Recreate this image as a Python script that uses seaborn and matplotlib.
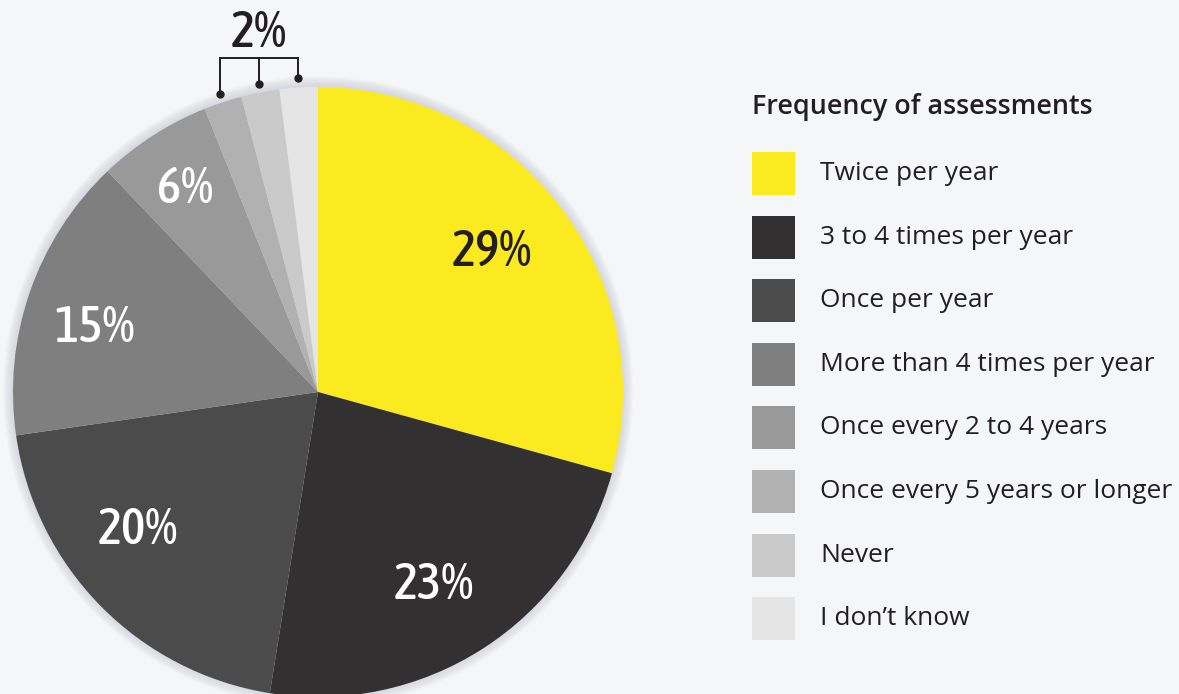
import numpy as np
import matplotlib
matplotlib.use("Agg")
import matplotlib.pyplot as plt
from matplotlib import font_manager
from matplotlib.patches import Circle, Rectangle
import seaborn as sns

# Survey results: how often assessments are carried out
categories = [
    "Twice per year",
    "3 to 4 times per year",
    "Once per year",
    "More than 4 times per year",
    "Once every 2 to 4 years",
    "Once every 5 years or longer",
    "Never",
    "I don\u2019t know",
]
shares = [29, 23, 20, 15, 6, 2, 2, 2]
colors = ["#fcea20", "#323031", "#4b4b4b", "#7f7f7f",
          "#999999", "#b1b1b1", "#cacaca", "#e5e5e5"]
legend_title = "Frequency of assessments"
grouped_label = "2%"

BG = "#f5f6f8"
sns.set_theme(style="white")
plt.rcParams["font.family"] = ["Open Sans", "DejaVu Sans"]


def narrow_font():
    """Pick a condensed/narrow face of medium weight for the big numbers."""
    best = None
    for f in font_manager.fontManager.ttflist:
        name = f.name.lower()
        path = f.fname.lower()
        if not ("narrow" in name or "condensed" in name
                or "narrow" in path or "condensed" in path):
            continue
        if "italic" in path or "oblique" in path:
            continue
        w = f.weight if isinstance(f.weight, int) else 400
        if "semibold" in path or "medium" in path:
            w = 550
        # aim for a medium-heavy stroke
        score = -abs(w - 560)
        if best is None or score > best[0]:
            best = (score, f.fname)
    return best[1] if best else None


narrow_path = narrow_font()
if narrow_path:
    num_prop = font_manager.FontProperties(fname=narrow_path, size=37)
else:
    num_prop = font_manager.FontProperties(family="DejaVu Sans", size=30,
                                           weight="bold")

W, H, DPI = 1179, 694, 100
fig = plt.figure(figsize=(W / DPI, H / DPI), dpi=DPI, facecolor=BG)

# Pie axes: one data unit = pie radius
R_PX = 305.0
CX, CY = 318.0, 392.0
AX_W = 640.0
ax = fig.add_axes([0, 0, AX_W / W, 1])
ax.set_facecolor(BG)
ax.axis("off")

# soft shadow around the pie
for k in range(12, 0, -1):
    ax.add_patch(Circle((0.0, 0.002), 1.0 + 0.0028 * k, color="#3a3f4a",
                        alpha=0.011, lw=0, zorder=0))

wedges, _ = ax.pie(shares, colors=colors, startangle=90, counterclock=False,
                   radius=1.0, wedgeprops=dict(linewidth=0))
for w in wedges:
    w.set_zorder(2)

ax.set_xlim(-CX / R_PX, (AX_W - CX) / R_PX)
ax.set_ylim(-(H - CY) / R_PX, CY / R_PX)
ax.set_aspect("auto")

# value labels inside the larger slices
label_pos = [(0.571, 0.457), (0.380, -0.633), (-0.590, -0.455),
             (-0.731, 0.209), (-0.436, 0.665)]
label_col = ["#231f20", "white", "white", "white", "white"]
for v, (x, y), c in zip(shares[:5], label_pos, label_col):
    ax.text(x, y, f"{v}%", ha="center", va="center", color=c, zorder=5,
            fontproperties=num_prop)

# bracket grouping the three smallest slices
total = float(sum(shares))
cum = np.cumsum([0] + shares)
tips = []
for i in range(5, 8):
    mid = (cum[i] + cum[i + 1]) / 2.0 / total * 360.0
    theta = np.deg2rad(90.0 - mid)
    tips.append((1.03 * np.cos(theta), 1.03 * np.sin(theta)))
bar_y = 1.095
xs = [t[0] for t in tips]
ax.plot([min(xs), max(xs)], [bar_y, bar_y], color="#231f20", lw=1.4,
        zorder=5, solid_capstyle="projecting")
for x, y in tips:
    ax.plot([x, x], [bar_y, y], color="#231f20", lw=1.4, zorder=5)
    ax.plot(x, y, "o", color="#231f20", ms=5, zorder=6)
ax.text(np.mean(xs), 1.175, grouped_label, ha="center", va="center",
        color="#231f20", zorder=5, fontproperties=num_prop)

# legend panel (pixel coordinates, y downward)
lax = fig.add_axes([740 / W, 0, (W - 740) / W, 1])
lax.set_xlim(0, W - 740)
lax.set_ylim(H, 0)
lax.axis("off")
lax.text(12, 107, legend_title, ha="left", va="center", fontsize=19.4,
         fontweight="semibold", color="#231f20")
step = 63.6
for i, (lab, col) in enumerate(zip(categories, colors)):
    top = 152 + i * step
    lax.add_patch(Rectangle((12, top), 43, 43, color=col, lw=0))
    lax.text(80, top + 21.5, lab, ha="left", va="center", fontsize=19,
             color="#231f20")

fig.savefig("out.png", dpi=DPI, facecolor=BG)
